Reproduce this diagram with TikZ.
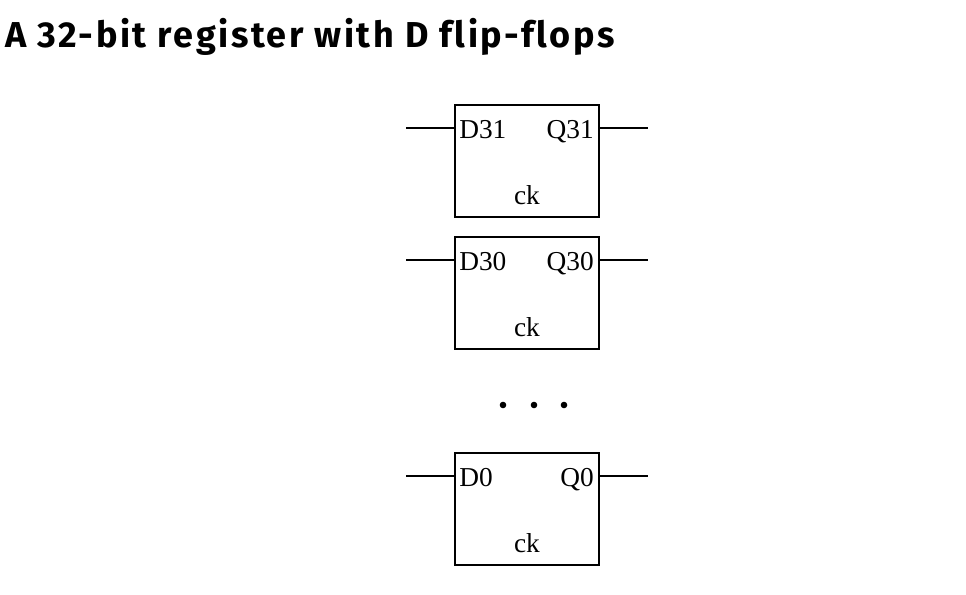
\documentclass[tikz,border=0pt]{standalone}
\usepackage{fontspec}
\setmainfont{Liberation Serif}
\newfontfamily\titlefont[LetterSpace=7,Ligatures=NoCommon]{Fira Sans}
\usetikzlibrary{positioning,calc}

\tikzset{
	ffbox/.style={draw,line width=1.4pt,minimum width=144*0.75pt,minimum height=112*0.75pt,inner sep=0pt},
	wire/.style={line width=1.4pt},
	pin/.style={inner sep=0pt,font=\fontsize{20.5}{24}\selectfont}
}

\begin{document}
\begin{tikzpicture}[x=0.75pt,y=-0.75pt]
	\useasboundingbox (0,0) rectangle (966,595);

	% title
	\node[anchor=base west,inner sep=0pt,font=\titlefont\bfseries\fontsize{27}{30}\selectfont] (title) at (5,48) {A 32-bit register with D flip-flops};

	% the flip-flops
	\foreach \i/\y in {31/161,30/293,0/509} {
		\node[ffbox] (ff\i) at (527,\y) {};
		\node[pin,anchor=base west] (d\i) at ($(ff\i.north west)+(5,34)$) {D\i};
		\node[pin,anchor=base east] (q\i) at ($(ff\i.north east)+(-6,34)$) {Q\i};
		\node[pin,anchor=base] (ck\i) at ($(ff\i.north)+(0,100)$) {ck};
		\coordinate (in\i) at ($(ff\i.north west)+(-48,24)$);
		\coordinate (out\i) at ($(ff\i.north east)+(48,24)$);
		\draw[wire] (in\i) -- (in\i -| ff\i.west);
		\draw[wire] (out\i) -- (out\i -| ff\i.east);
	}

	% dots
	\foreach \x in {503,534,564}
		\fill (\x,405) circle (3.3);
\end{tikzpicture}
\end{document}
